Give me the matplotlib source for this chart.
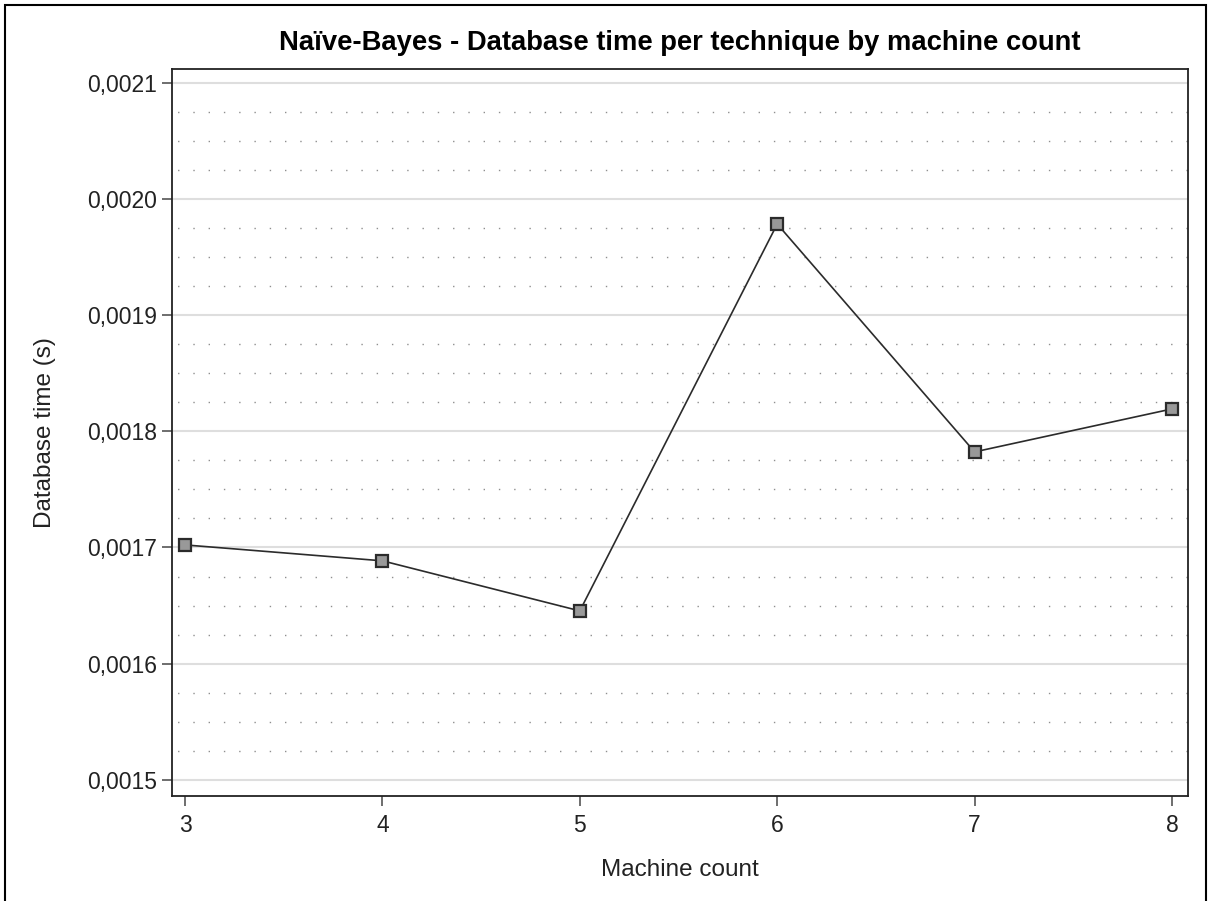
import matplotlib.pyplot as plt
from matplotlib.patches import Rectangle
from matplotlib.ticker import FuncFormatter, MultipleLocator

# data
machine_count = [3, 4, 5, 6, 7, 8]
db_time = [0.0017022, 0.0016885, 0.0016454, 0.0019785, 0.0017823, 0.0018193]

plt.rcParams['font.family'] = ['Liberation Sans', 'DejaVu Sans']

fig = plt.figure(figsize=(12.08, 9.01), dpi=100)
ax = fig.add_axes([172 / 1208, 1 - 796 / 901, (1188 - 172) / 1208, (796 - 69) / 901])

# outer frame around the whole picture
fig.patches.append(Rectangle((5 / 1208, -0.02), 1201 / 1208, 1 - 5 / 901 + 0.02,
                             transform=fig.transFigure, fill=False,
                             edgecolor='black', linewidth=1.5))

ax.plot(machine_count, db_time, color='#2b2b2b', linewidth=1.2, marker='s',
        markersize=8.5, markerfacecolor='#999999', markeredgecolor='#2b2b2b',
        markeredgewidth=1.6, zorder=3)

ax.set_xlim(2.934, 8.081)
ax.set_ylim(0.001486, 0.002112)
ax.set_xticks(machine_count)
ax.yaxis.set_major_locator(MultipleLocator(0.0001))
ax.yaxis.set_minor_locator(MultipleLocator(0.000025))
ax.yaxis.set_major_formatter(FuncFormatter(lambda v, p: f"{v:.4f}".replace('.', ',')))

ax.grid(which='major', axis='y', color='#dedede', linewidth=1.5)
ax.grid(which='minor', axis='y', color='#8f8f8f', linewidth=1.0, linestyle=(7, (1, 10)))
ax.tick_params(axis='y', which='minor', length=0)
ax.tick_params(axis='both', which='major', direction='out', length=7, width=1.2,
               color='#555555', labelsize=16.5, labelcolor='#222222', pad=4)
ax.tick_params(axis='x', pad=6)
ax.set_axisbelow(True)

for s in ax.spines.values():
    s.set_linewidth(1.3)
    s.set_color('#222222')

ax.set_title('Naïve-Bayes - Database time per technique by machine count',
             fontsize=19.7, fontweight='bold', pad=14)
ax.set_xlabel('Machine count', fontsize=17.5, color='#222222', labelpad=16)
ax.set_ylabel('Database time (s)', fontsize=17.5, color='#222222', labelpad=22)

fig.savefig('out.png', dpi=100)
